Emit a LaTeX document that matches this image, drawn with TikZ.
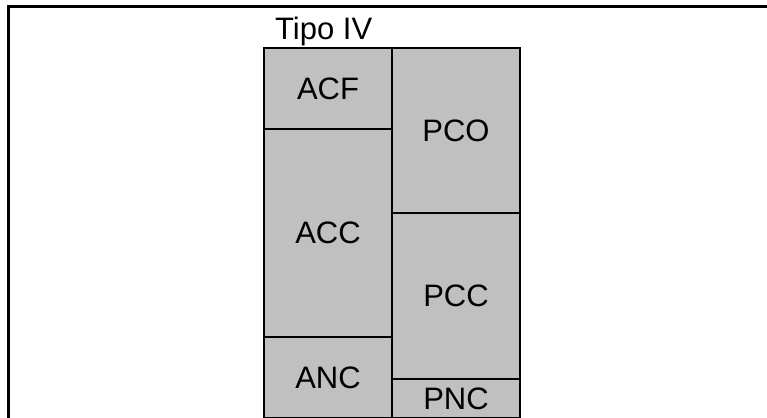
\documentclass[tikz,border=0pt]{standalone}
\usepackage{fontspec}
\setmainfont{Liberation Sans}
\usetikzlibrary{positioning}

\tikzset{
    cell/.style={draw, line width=1.7pt, fill={rgb,255:red,192;green,192;blue,192},
        minimum width=128pt, inner sep=0pt, outer sep=0pt,
        font=\fontsize{31}{36}\selectfont},
}

\begin{document}
\begin{tikzpicture}[x=1pt,y=-1pt]
    \useasboundingbox (0,0) rectangle (767,417);
    \clip (0,0) rectangle (767,417);
    % frame
    \coordinate (fbl) at (8.5,430);
    \coordinate (ftr) at (780,6.5);
    \draw [line width=2.7pt] (fbl) |- (ftr);
    % title
    \node [anchor=base west, inner sep=0pt, font=\fontsize{31}{36}\selectfont] (tipo) at (275,39.5) {Tipo IV};
    % left column
    \node [cell, minimum height=81pt, anchor=north west] (acf) at (264,48) {ACF};
    \node [cell, minimum height=208pt] (acc) [below=0pt of acf] {ACC};
    \node [cell, minimum height=81pt] (anc) [below=0pt of acc] {ANC};
    % right column
    \node [cell, minimum height=165pt] (pco) [right=0pt of acf.north east, anchor=north west] {PCO};
    \node [cell, minimum height=166pt] (pcc) [below=0pt of pco] {PCC};
    \node [cell, minimum height=39pt] (pnc) [below=0pt of pcc] {PNC};
\end{tikzpicture}
\end{document}
